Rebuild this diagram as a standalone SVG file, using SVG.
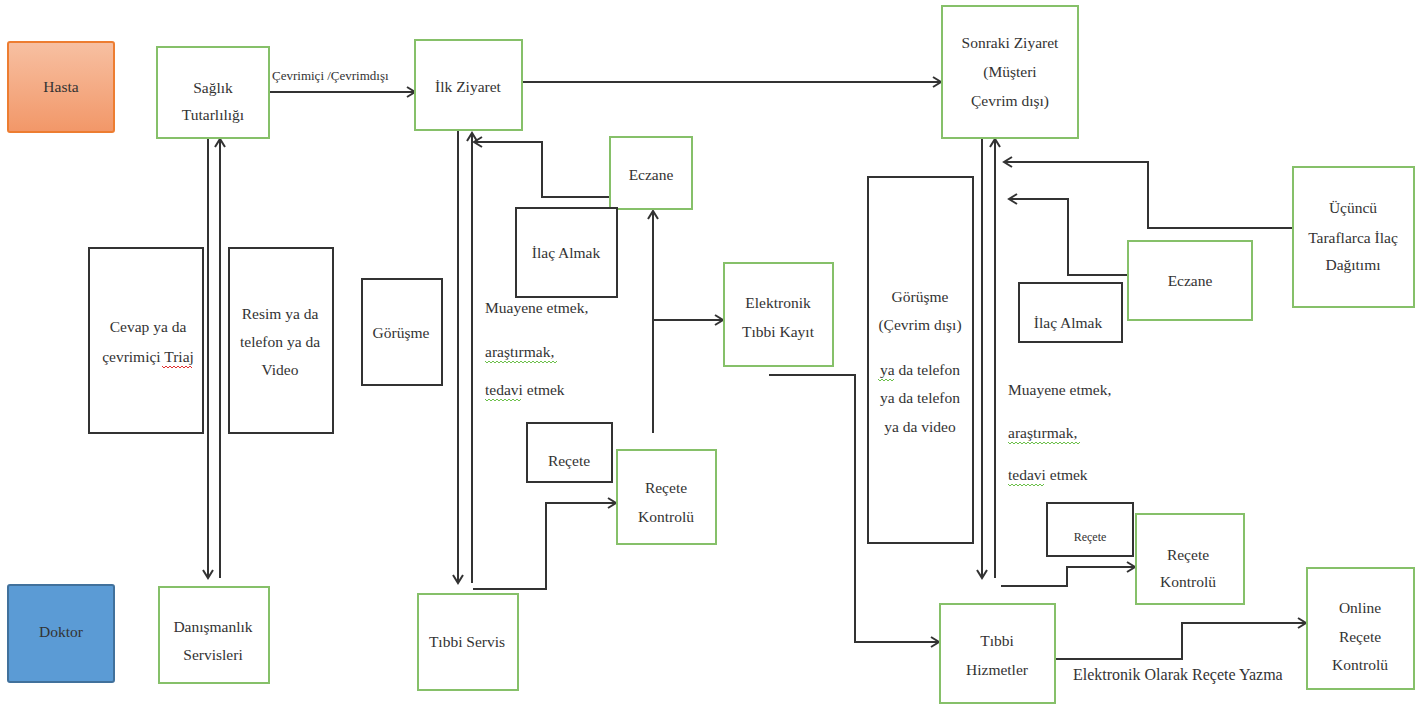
<svg xmlns="http://www.w3.org/2000/svg" width="1415" height="705" viewBox="0 0 1415 705" font-family="Liberation Serif, Times New Roman, serif">
<defs>
<linearGradient id="gOrange" x1="0" y1="0" x2="0" y2="1">
<stop offset="0" stop-color="#F7C0A2"/>
<stop offset="1" stop-color="#F29768"/>
</linearGradient>
<marker id="arr" markerUnits="userSpaceOnUse" markerWidth="14" markerHeight="14" refX="9" refY="6" orient="auto">
<path d="M1,1 L9,6 L1,11" fill="none" stroke="#333" stroke-width="2"/>
</marker>
</defs>
<style>
text{fill:#333;font-size:15.5px;text-anchor:middle}
.g{fill:#fff;stroke:#86C069;stroke-width:2}
.b{fill:#fff;stroke:#333;stroke-width:2}
.ca{fill:none;stroke:#333;stroke-width:2;marker-end:url(#arr)}
text.l{text-anchor:start}
text.s12{font-size:13px}
text.s11{font-size:12px}
text.s16{font-size:16px}
.sg{fill:none;stroke:#6CC04A;stroke-width:1}
.sr{fill:none;stroke:#E03030;stroke-width:1}
</style>
<rect width="1415" height="705" fill="#fff"/>

<g id="connectors">
<path class="ca" d="M269,92 H415"/>
<path class="ca" d="M522,82 H941"/>
<path class="ca" d="M208,138 V578"/>
<path class="ca" d="M220,578 V139"/>
<path class="ca" d="M458,130 V583"/>
<path class="ca" d="M472,583 V133"/>
<path class="ca" d="M610,197 H542 V142 H474"/>
<path class="ca" d="M653,433 V211"/>
<path class="ca" d="M653,320 H723"/>
<path class="ca" d="M473,589 H546 V503 H616"/>
<path class="ca" d="M769,375 H855 V642 H939"/>
<path class="ca" d="M982,138 V578"/>
<path class="ca" d="M995,578 V139"/>
<path class="ca" d="M1293,228 H1148 V162 H1004"/>
<path class="ca" d="M1128,275 H1068 V199 H1009"/>
<path class="ca" d="M1001,586 H1067 V567 H1135"/>
<path class="ca" d="M1055,659 H1182 V623 H1306"/>
</g>

<g id="hasta">
<rect x="8" y="42" width="106" height="90" rx="2" fill="url(#gOrange)" stroke="#ED7D31" stroke-width="2"/>
<text x="61" y="92">Hasta</text>
</g>
<g id="doktor">
<rect x="8" y="585" width="106" height="97" rx="2" fill="#5B9BD5" stroke="#41719C" stroke-width="2"/>
<text x="61" y="637">Doktor</text>
</g>

<g id="saglik">
<rect class="g" x="157" y="47" width="112" height="91"/>
<text x="213" y="93">Sağlık</text>
<text x="213" y="120">Tutarlılığı</text>
</g>
<g id="label-cevrim">
<text class="l s12" x="272" y="80">Çevrimiçi /Çevrimdışı</text>
</g>
<g id="ilk-ziyaret">
<rect class="g" x="415" y="40" width="107" height="90"/>
<text x="468" y="92">İlk Ziyaret</text>
</g>
<g id="sonraki-ziyaret">
<rect class="g" x="942" y="6" width="136" height="132"/>
<text x="1010" y="48">Sonraki Ziyaret</text>
<text x="1010" y="77">(Müşteri</text>
<text x="1010" y="106">Çevrim dışı)</text>
</g>

<g id="cevap">
<rect class="b" x="89" y="248" width="114" height="185"/>
<text x="148" y="332">Cevap ya da</text>
<text x="148" y="362">çevrimiçi Triaj</text>
</g>
<g id="resim">
<rect class="b" x="229" y="248" width="104" height="185"/>
<text x="280" y="319">Resim ya da</text>
<text x="280" y="347">telefon ya da</text>
<text x="280" y="375">Video</text>
</g>
<g id="gorusme1">
<rect class="b" x="362" y="279" width="80" height="106"/>
<text x="401" y="338">Görüşme</text>
</g>
<g id="danismanlik">
<rect class="g" x="159" y="587" width="110" height="96"/>
<text x="213" y="632">Danışmanlık</text>
<text x="213" y="660">Servisleri</text>
</g>

<g id="eczane1">
<rect class="g" x="610" y="137" width="82" height="72"/>
<text x="651" y="180">Eczane</text>
</g>
<g id="ilac1">
<rect class="b" x="516" y="208" width="101" height="89"/>
<text x="566" y="258">İlaç Almak</text>
</g>
<g id="muayene1">
<text class="l" x="485" y="313">Muayene etmek,</text>
<text class="l" x="485" y="357">araştırmak,</text>
<text class="l" x="485" y="395">tedavi etmek</text>
</g>
<g id="elektronik">
<rect class="g" x="724" y="263" width="109" height="103"/>
<text x="778" y="308">Elektronik</text>
<text x="778" y="337">Tıbbi Kayıt</text>
</g>
<g id="recete1">
<rect class="b" x="527" y="423" width="85" height="59"/>
<text x="569" y="466">Reçete</text>
</g>
<g id="recete-kontrol1">
<rect class="g" x="617" y="450" width="99" height="94"/>
<text x="666" y="493">Reçete</text>
<text x="666" y="522">Kontrolü</text>
</g>
<g id="tibbi-servis">
<rect class="g" x="418" y="594" width="100" height="96"/>
<text x="467" y="647">Tıbbi Servis</text>
</g>

<g id="gorusme2">
<rect class="b" x="868" y="177" width="105" height="366"/>
<text x="920" y="302">Görüşme</text>
<text x="920" y="330">(Çevrim dışı)</text>
<text x="920" y="375">ya da telefon</text>
<text x="920" y="403">ya da telefon</text>
<text x="920" y="432">ya da video</text>
</g>
<g id="ucuncu">
<rect class="g" x="1293" y="167" width="121" height="140"/>
<text x="1353" y="213">Üçüncü</text>
<text x="1353" y="243">Taraflarca İlaç</text>
<text x="1353" y="270">Dağıtımı</text>
</g>
<g id="eczane2">
<rect class="g" x="1128" y="241" width="124" height="79"/>
<text x="1190" y="286">Eczane</text>
</g>
<g id="ilac2">
<rect class="b" x="1019" y="283" width="103" height="59"/>
<text x="1068" y="328">İlaç Almak</text>
</g>
<g id="muayene2">
<text class="l" x="1008" y="395">Muayene etmek,</text>
<text class="l" x="1008" y="438">araştırmak,</text>
<text class="l" x="1008" y="480">tedavi etmek</text>
</g>
<g id="recete2">
<rect class="b" x="1047" y="503" width="86" height="53"/>
<text class="s11" x="1090" y="541">Reçete</text>
</g>
<g id="recete-kontrol2">
<rect class="g" x="1136" y="514" width="108" height="90"/>
<text x="1188" y="560">Reçete</text>
<text x="1188" y="587">Kontrolü</text>
</g>
<g id="tibbi-hizmetler">
<rect class="g" x="940" y="604" width="115" height="99"/>
<text x="997" y="646">Tıbbi</text>
<text x="997" y="675">Hizmetler</text>
</g>
<g id="online">
<rect class="g" x="1307" y="568" width="107" height="121"/>
<text x="1360" y="613">Online</text>
<text x="1360" y="642">Reçete</text>
<text x="1360" y="670">Kontrolü</text>
</g>
<g id="label-yazma">
<text class="l s16" x="1073" y="680">Elektronik Olarak Reçete Yazma</text>
</g>

<g id="spellcheck">
<path class="sr" d="M162,366 l2,2 l2,-2 l2,2 l2,-2 l2,2 l2,-2 l2,2 l2,-2 l2,2 l2,-2 l2,2 l2,-2 l2,2 l2,-2 l2,2"/>
<path class="sg" d="M485,361 l2,2 l2,-2 l2,2 l2,-2 l2,2 l2,-2 l2,2 l2,-2 l2,2 l2,-2 l2,2 l2,-2 l2,2 l2,-2 l2,2 l2,-2 l2,2 l2,-2 l2,2 l2,-2 l2,2 l2,-2 l2,2 l2,-2 l2,2 l2,-2 l2,2 l2,-2 l2,2 l2,-2 l2,2 l2,-2 l2,2 l2,-2 l2,2 l2,-2"/>
<path class="sg" d="M485,399 l2,2 l2,-2 l2,2 l2,-2 l2,2 l2,-2 l2,2 l2,-2 l2,2 l2,-2 l2,2 l2,-2 l2,2 l2,-2 l2,2 l2,-2 l2,2 l2,-2"/>
<path class="sg" d="M1008,442 l2,2 l2,-2 l2,2 l2,-2 l2,2 l2,-2 l2,2 l2,-2 l2,2 l2,-2 l2,2 l2,-2 l2,2 l2,-2 l2,2 l2,-2 l2,2 l2,-2 l2,2 l2,-2 l2,2 l2,-2 l2,2 l2,-2 l2,2 l2,-2 l2,2 l2,-2 l2,2 l2,-2 l2,2 l2,-2 l2,2 l2,-2 l2,2 l2,-2"/>
<path class="sg" d="M1008,484 l2,2 l2,-2 l2,2 l2,-2 l2,2 l2,-2 l2,2 l2,-2 l2,2 l2,-2 l2,2 l2,-2 l2,2 l2,-2 l2,2 l2,-2 l2,2 l2,-2"/>
<path class="sg" d="M878,379 l2,2 l2,-2 l2,2 l2,-2 l2,2 l2,-2 l2,2 l2,-2"/>
</g>
</svg>
